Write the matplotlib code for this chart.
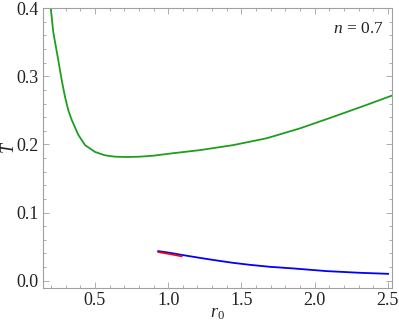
import matplotlib
matplotlib.use("Agg")
import matplotlib.pyplot as plt
from matplotlib.ticker import MultipleLocator, FormatStrFormatter

# Data
green_r = [0.198, 0.215, 0.249, 0.273, 0.295, 0.318, 0.341, 0.386, 0.432, 0.500, 0.568,
           0.636, 0.72, 0.807, 0.90, 1.03, 1.217, 1.444, 1.672, 1.899, 2.127, 2.355, 2.532]
green_T = [0.400, 0.365, 0.324, 0.294, 0.270, 0.250, 0.236, 0.214, 0.199, 0.189, 0.184,
           0.182, 0.1815, 0.182, 0.1835, 0.187, 0.1916, 0.199, 0.209, 0.2235, 0.2405, 0.258, 0.272]
blue_r = [0.932, 1.012, 1.103, 1.217, 1.331, 1.444, 1.558, 1.694, 1.854, 2.081, 2.309, 2.502]
blue_T = [0.0433, 0.0408, 0.0374, 0.0334, 0.0296, 0.0261, 0.0232, 0.0203, 0.0179, 0.0140, 0.0115, 0.0100]
red_r = [0.932, 1.012, 1.092]
red_T = [0.0419, 0.0389, 0.0356]

plt.rcParams['font.family'] = ['Liberation Serif', 'DejaVu Serif']
plt.rcParams['mathtext.fontset'] = 'custom'
plt.rcParams['mathtext.it'] = 'Liberation Serif:italic'
plt.rcParams['mathtext.rm'] = 'Liberation Serif'

fig = plt.figure(figsize=(3.99, 3.28), dpi=100)
ax = fig.add_axes([0.1078, 0.122, 0.8759, 0.8536])

ax.plot(green_r, green_T, color='#1e9e1e', lw=1.3)
ax.plot(blue_r, blue_T, color='#0000ff', lw=1.3)
ax.plot(red_r, red_T, color='#ff0000', lw=1.2)

ax.set_xlim(0.145, 2.532)
ax.set_ylim(-0.0108, 0.4003)

ax.xaxis.set_major_locator(MultipleLocator(0.5))
ax.xaxis.set_minor_locator(MultipleLocator(0.1))
ax.yaxis.set_major_locator(MultipleLocator(0.1))
ax.yaxis.set_minor_locator(MultipleLocator(0.02))
ax.xaxis.set_major_formatter(FormatStrFormatter('%.1f'))
ax.yaxis.set_major_formatter(FormatStrFormatter('%.1f'))

fc = '#a0a0a0'
for s in ax.spines.values():
    s.set_color(fc)
    s.set_linewidth(0.8)
ax.tick_params(which='both', direction='in', top=True, right=True, color=fc,
               labelsize=13, labelcolor='#222222', width=0.6)
ax.tick_params(which='major', length=4, pad=3)
ax.tick_params(which='minor', length=2)

fig.text(217 / 399, 1 - 314 / 328, r'$r_0$', fontsize=13, color='#222222',
         ha='center', va='center')
fig.text(9 / 399, 1 - 147 / 328, r'$T$', fontsize=13, color='#222222',
         ha='center', va='center', rotation=90)
ax.text(0.976, 0.925, r'$n\,=\,0.7$', transform=ax.transAxes, ha='right', va='center',
        fontsize=12.5, color='#222222')

fig.savefig('out.png', dpi=100)
